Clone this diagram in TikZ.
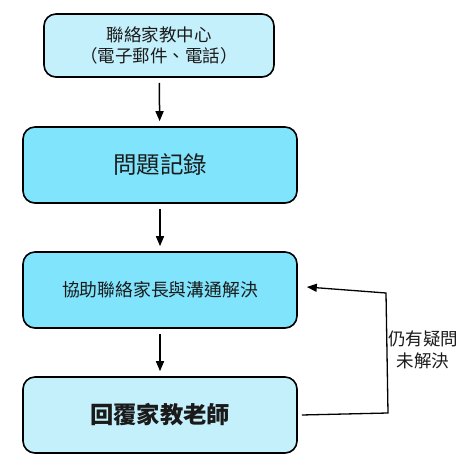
\documentclass[tikz,border=0pt]{standalone}
\usepackage{fontspec}
\setmainfont{Noto Sans CJK TC}
\usepackage{xcolor}
\usetikzlibrary{arrows.meta, positioning, shadows}
\definecolor{boxPale}{HTML}{C4F0FC}
\definecolor{boxBright}{HTML}{7FE4FC}
\definecolor{ink}{HTML}{1A1A1A}

\begin{document}
\begin{tikzpicture}[
  x=1pt, y=1pt,
  every node/.style={color=ink},
  stepbox/.style={
    rectangle, rounded corners=12pt, draw=black, line width=1.6pt,
    minimum width=274pt, minimum height=76pt, align=center,
    drop shadow={shadow xshift=0pt, shadow yshift=-1pt, opacity=0.18, fill=black}
  },
  flow/.style={line width=1.5pt, -{Triangle[length=10pt, width=8pt]}},
  loopnote/.style={align=center, font=\fontsize{17.5}{22}\selectfont}
]
\useasboundingbox (0,0) rectangle (470,474);

% steps
\node[stepbox, fill=boxPale, minimum width=230pt, minimum height=63pt,
      font=\fontsize{17.5}{21.5}\selectfont] (contact) at (159,428.5)
      {聯絡家教中心\\（電子郵件、電話）};
\node[stepbox, fill=boxBright, font=\fontsize{23.5}{26}\selectfont] (record) at (160,309) {問題記錄};
\node[stepbox, fill=boxBright, font=\fontsize{17.8}{20}\selectfont] (assist) at (160,184) {協助聯絡家長與溝通解決};
\node[stepbox, fill=boxPale, font=\fontsize{23.3}{26}\selectfont\bfseries] (reply) at (160,59) {回覆家教老師};

% arrows
\draw[flow, shorten <=5pt, shorten >=5pt] (contact) -- (record);
\draw[flow, shorten <=5pt, shorten >=5pt] (record) -- (assist);
\draw[flow, shorten <=5pt, shorten >=5pt] (assist) -- (reply);

% loop back
\coordinate (loopLow) at (388,61);
\coordinate (loopHigh) at (386,181);
\draw[flow, line width=1.3pt] ([xshift=4pt]reply.east) -- (loopLow) -- (loopHigh) -- ([xshift=9pt, yshift=3pt]assist.east);
\node[loopnote] (note) at (423,124) {仍有疑問\\未解決};
\end{tikzpicture}
\end{document}
